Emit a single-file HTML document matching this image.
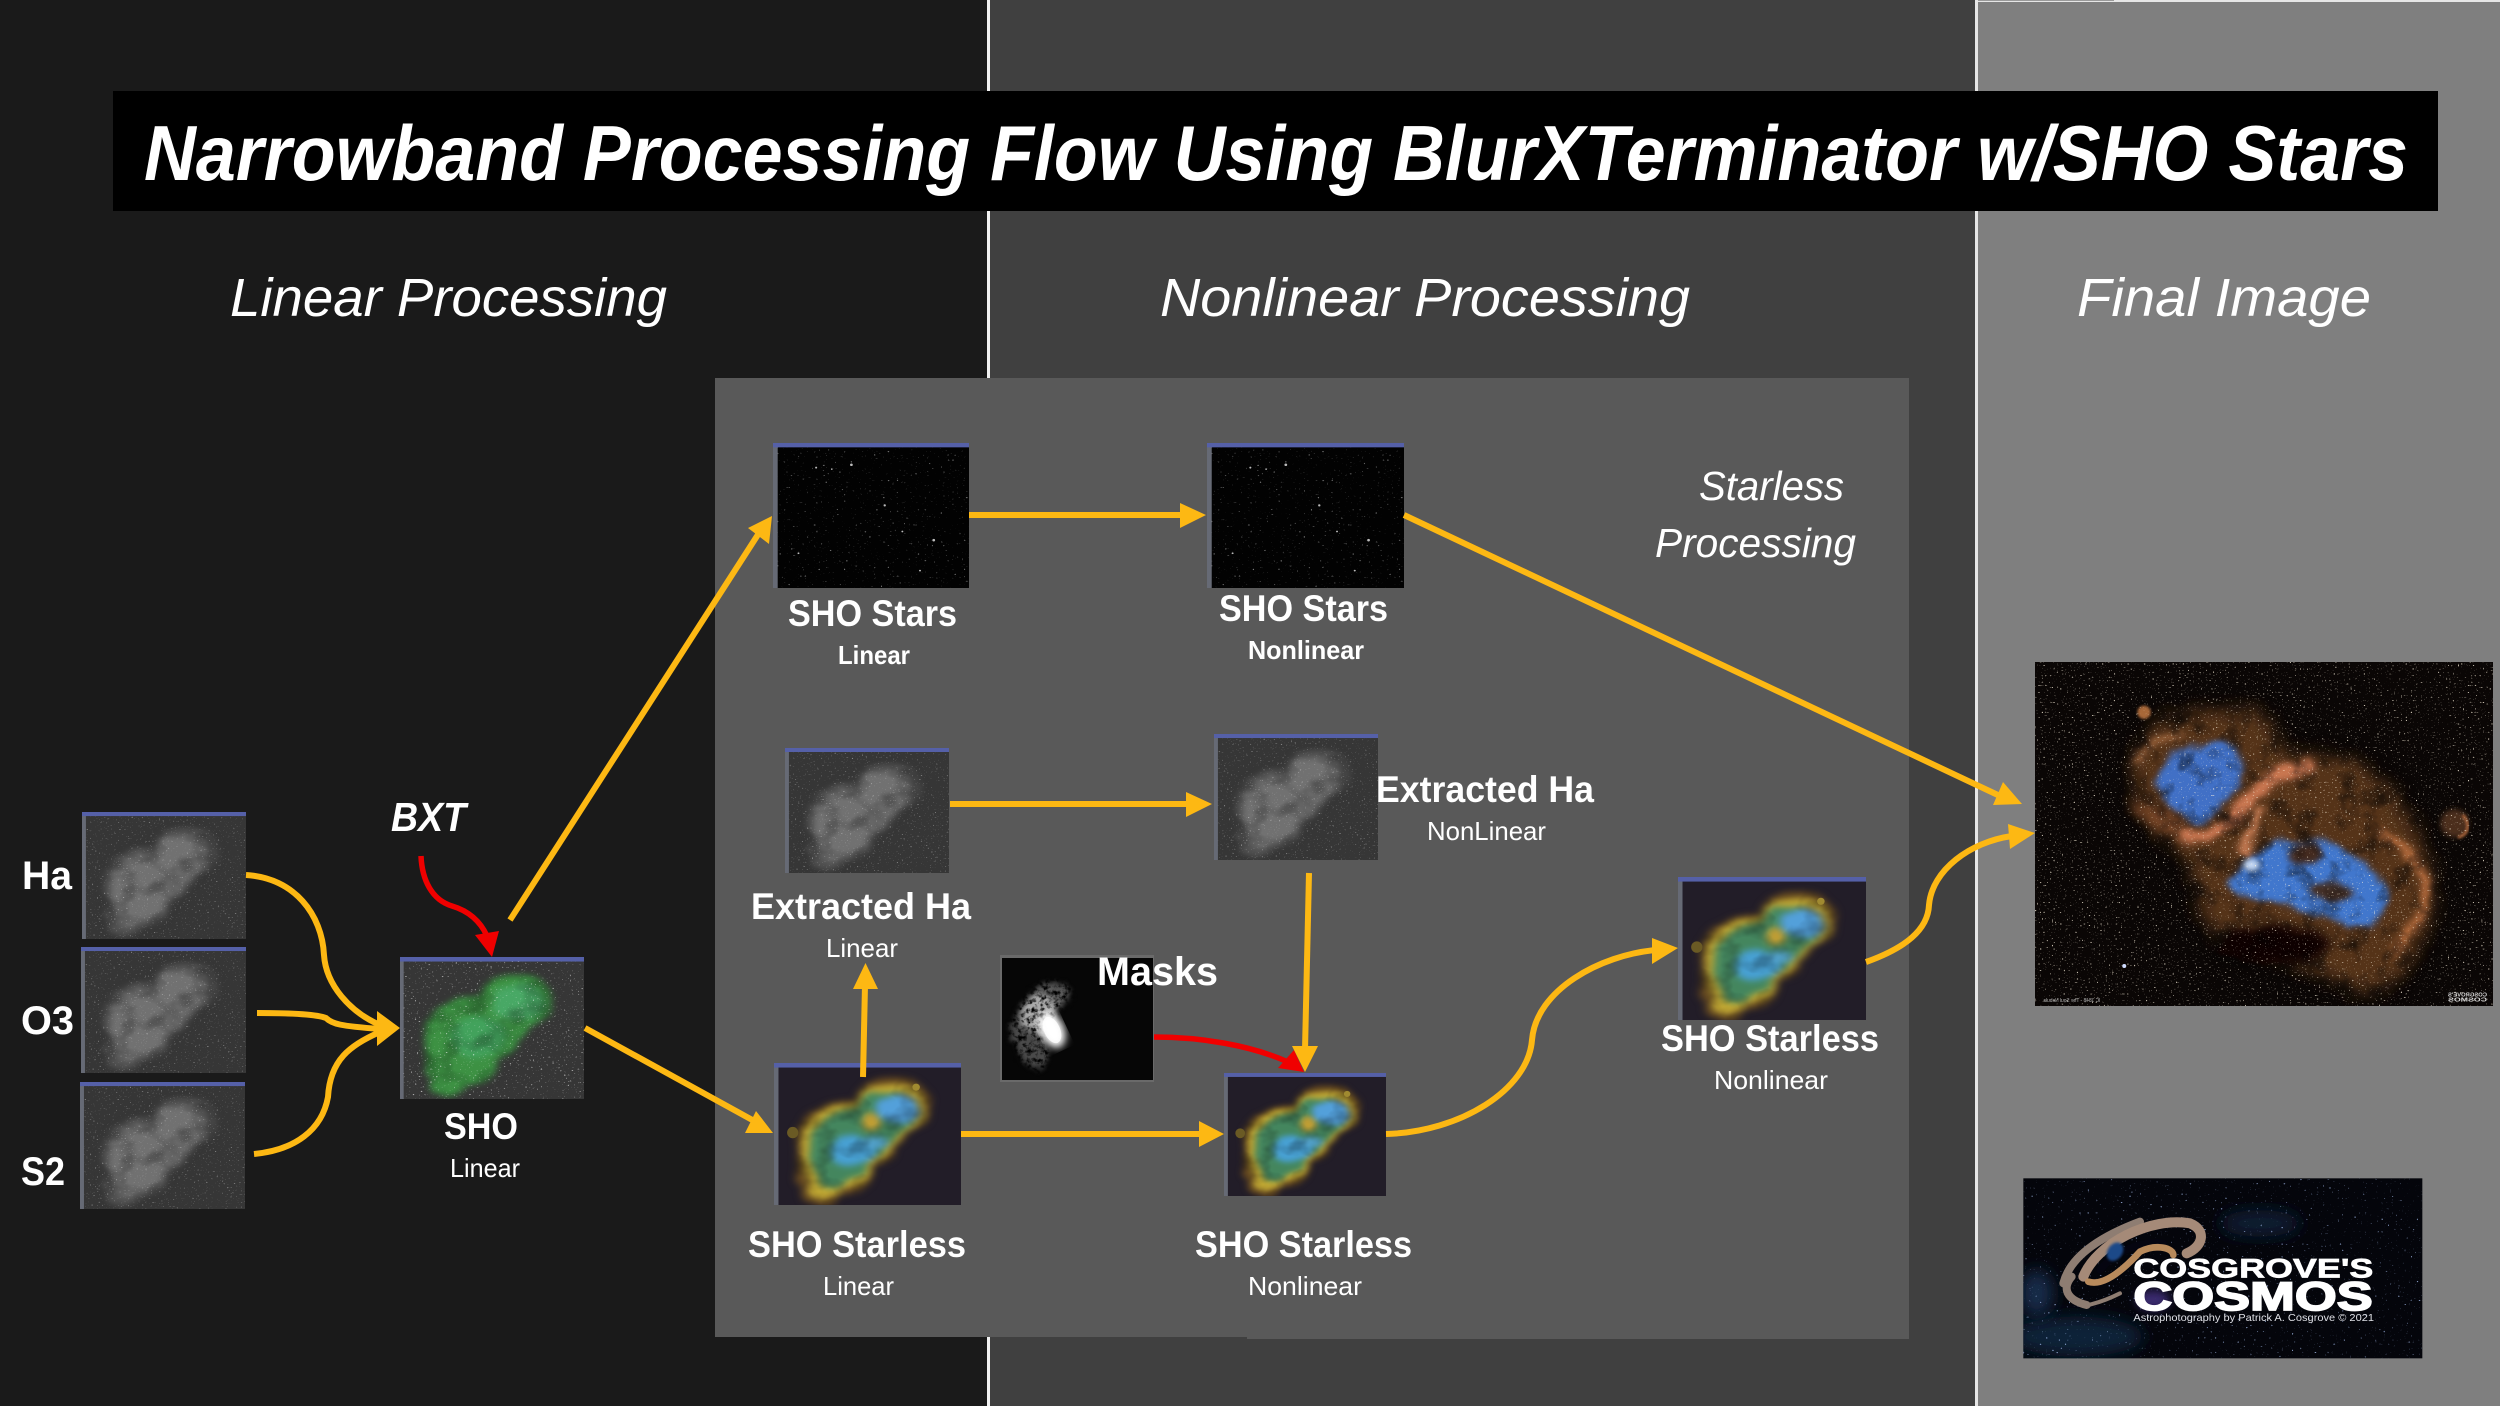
<!DOCTYPE html>
<html><head><meta charset="utf-8">
<style>
html,body{margin:0;padding:0;background:#1a1a1a}
svg{display:block}
text{font-family:"Liberation Sans",sans-serif;fill:#fff}
.b{font-weight:bold}
</style></head><body>
<svg xmlns="http://www.w3.org/2000/svg" width="2500" height="1406" viewBox="0 0 2500 1406">
<defs>
<filter id="nebT" x="-10%" y="-10%" width="120%" height="120%" color-interpolation-filters="sRGB">
  <feTurbulence type="fractalNoise" baseFrequency="0.06" numOctaves="3" seed="4" result="n"/>
  <feDisplacementMap in="SourceGraphic" in2="n" scale="7" xChannelSelector="R" yChannelSelector="G" result="d0"/>
  <feGaussianBlur in="d0" stdDeviation="2.2" result="d"/>
  <feColorMatrix in="n" values="1.7 0 0 0 0 1.7 0 0 0 0 1.7 0 0 0 0 0 0 0 0 1" result="g"/>
  <feComposite in="d" in2="g" operator="arithmetic" k1="0.45" k2="0.6"/>
</filter>
<filter id="cloud" x="-5%" y="-5%" width="110%" height="110%" color-interpolation-filters="sRGB">
  <feTurbulence type="fractalNoise" baseFrequency="0.014" numOctaves="4" seed="5" result="n"/>
  <feDisplacementMap in="SourceGraphic" in2="n" scale="45" xChannelSelector="R" yChannelSelector="G" result="d0"/>
  <feGaussianBlur in="d0" stdDeviation="6" result="d"/>
  <feColorMatrix in="n" values="1.9 0 0 0 0 1.9 0 0 0 0 1.9 0 0 0 0 0 0 0 0 1" result="g"/>
  <feComposite in="d" in2="g" operator="arithmetic" k1="0.85" k2="0.25"/>
</filter>
<filter id="stars" x="0" y="0" width="100%" height="100%" color-interpolation-filters="sRGB">
  <feTurbulence type="fractalNoise" baseFrequency="0.95" numOctaves="1" seed="7"/>
  <feColorMatrix values="0 0 0 0 1 0 0 0 0 1 0 0 0 0 1 9 0 0 0 -5.9"/>
</filter>
<filter id="starsFew" x="0" y="0" width="100%" height="100%" color-interpolation-filters="sRGB">
  <feTurbulence type="fractalNoise" baseFrequency="0.85" numOctaves="1" seed="21"/>
  <feColorMatrix values="0 0 0 0 1 0 0 0 0 1 0 0 0 0 1 9 0 0 0 -6.2"/>
</filter>
<filter id="starsFinal" x="0" y="0" width="100%" height="100%" color-interpolation-filters="sRGB">
  <feTurbulence type="fractalNoise" baseFrequency="0.2" numOctaves="1" seed="11"/>
  <feColorMatrix values="0 0 0 0 1 0 0 0 0 .96 0 0 0 0 .88 10 0 0 0 -6.7"/>
</filter>
<filter id="starsBig" x="0" y="0" width="100%" height="100%" color-interpolation-filters="sRGB">
  <feTurbulence type="fractalNoise" baseFrequency="0.16" numOctaves="1" seed="3"/>
  <feColorMatrix values="0 0 0 0 .7 0 0 0 0 .8 0 0 0 0 1 10 0 0 0 -7"/>
</filter>
<filter id="b4"><feGaussianBlur stdDeviation="4"/></filter>
<filter id="b8" x="-20%" y="-20%" width="140%" height="140%"><feGaussianBlur stdDeviation="8"/></filter>
<filter id="b14" x="-30%" y="-30%" width="160%" height="160%"><feGaussianBlur stdDeviation="14"/></filter>
<filter id="b24" x="-30%" y="-30%" width="160%" height="160%"><feGaussianBlur stdDeviation="24"/></filter>
<filter id="blob" x="-40%" y="-40%" width="180%" height="180%" color-interpolation-filters="sRGB">
  <feTurbulence type="fractalNoise" baseFrequency="0.22" numOctaves="3" seed="12" result="n"/>
  <feDisplacementMap in="SourceGraphic" in2="n" scale="16" xChannelSelector="R" yChannelSelector="G" result="d0"/>
  <feGaussianBlur in="d0" stdDeviation="2.5" result="d"/>
  <feColorMatrix in="n" values="3 0 0 0 -.7 3 0 0 0 -.7 3 0 0 0 -.7 0 0 0 0 1" result="g"/>
  <feComposite in="d" in2="g" operator="arithmetic" k1="1"/>
</filter>

<g id="lob">
  <ellipse cx="62" cy="32" rx="20" ry="20"/>
  <ellipse cx="40" cy="52" rx="27" ry="24"/>
  <ellipse cx="33" cy="72" rx="21" ry="20"/>
  <ellipse cx="27" cy="88" rx="10" ry="11"/>
  <ellipse cx="52" cy="46" rx="20" ry="16"/>
</g>

<symbol id="grey" viewBox="0 0 100 100" preserveAspectRatio="none">
  <rect width="100" height="100" fill="#363636"/>
  <g filter="url(#nebT)">
    <use href="#lob" fill="#4f4f4f"/>
    <use href="#lob" fill="#6c6c6c" transform="translate(47 52) scale(.84) translate(-47 -52)"/>
  </g>
  <rect width="100" height="100" filter="url(#stars)" opacity=".4"/>
  <rect x="0" y="0" width="2.4" height="100" fill="#666a75"/>
  <rect x="0" y="0" width="100" height="3.2" fill="#5560a8"/>
</symbol>
<symbol id="green" viewBox="0 0 100 100" preserveAspectRatio="none">
  <rect width="100" height="100" fill="#363636"/>
  <g filter="url(#nebT)">
    <use href="#lob" fill="#3a8a40"/>
    <ellipse cx="64" cy="32" rx="13" ry="13" fill="#45a060"/>
    <ellipse cx="42" cy="56" rx="15" ry="15" fill="#3f9a58"/>
  </g>
  <rect width="100" height="100" filter="url(#stars)" opacity=".6"/>
  <rect x="0" y="0" width="2" height="100" fill="#666a75"/>
  <rect x="0" y="0" width="100" height="3.2" fill="#5560a8"/>
</symbol>
<symbol id="sho" viewBox="0 0 100 100" preserveAspectRatio="none">
  <rect width="100" height="100" fill="#221d28"/>
  <g filter="url(#nebT)">
    <use href="#lob" fill="#5f4420" transform="translate(47 52) scale(1.06) translate(-47 -52)"/>
    <use href="#lob" fill="#b8a030" transform="translate(47 52) scale(.95) translate(-47 -52)"/>
    <use href="#lob" fill="#41805a" transform="translate(47 52) scale(.8) translate(-47 -52)"/>
    <ellipse cx="66" cy="33" rx="10" ry="10" fill="#4f98d0"/>
    <ellipse cx="42" cy="62" rx="13" ry="10" fill="#4498c8"/>
    <ellipse cx="54" cy="56" rx="7" ry="5" fill="#58acd8"/>
    <ellipse cx="52" cy="41" rx="5" ry="7" fill="#b89630"/>
  </g>
  <ellipse cx="10" cy="49" rx="3" ry="4" fill="#6a5a24"/>
  <ellipse cx="76" cy="17" rx="2" ry="2.5" fill="#a08a30"/>
  <rect x="0" y="0" width="2.4" height="100" fill="#666a75"/>
  <rect x="0" y="0" width="100" height="3.2" fill="#5560a8"/>
</symbol>
<symbol id="blk" viewBox="0 0 100 100" preserveAspectRatio="none">
  <rect width="100" height="100" fill="#020202"/>
  <rect width="100" height="100" filter="url(#starsFew)" opacity=".5"/>
  <g fill="#bbb">
    <ellipse cx="40" cy="15" rx=".7" ry=".9"/><ellipse cx="22" cy="17" rx=".5" ry=".7"/><ellipse cx="57" cy="43" rx=".6" ry=".8"/>
    <ellipse cx="82" cy="67" rx=".7" ry=".9"/><ellipse cx="66" cy="61" rx=".5" ry=".6"/><ellipse cx="75" cy="88" rx=".5" ry=".6"/>
    <ellipse cx="13" cy="76" rx=".5" ry=".6"/><ellipse cx="30" cy="18" rx=".4" ry=".6"/>
  </g>
  <rect x="0" y="0" width="2.4" height="100" fill="#666a75"/>
  <rect x="0" y="0" width="100" height="3" fill="#5560a8"/>
</symbol>
</defs>

<!-- backgrounds -->
<rect x="0" y="0" width="988" height="1406" fill="#1a1a1a"/>
<rect x="988" y="0" width="988" height="1406" fill="#404040"/>
<rect x="1976" y="0" width="524" height="1406" fill="#7f7f7f"/>
<rect x="987" y="0" width="3" height="1406" fill="#f2f2f2"/>
<rect x="1975" y="0" width="3" height="1406" fill="#e6e6e6"/>
<rect x="1976" y="0" width="524" height="2" fill="#e6e6e6"/>
<rect x="1978" y="0" width="136" height="1" fill="#9a9a9a"/>

<!-- title -->
<rect x="113" y="91" width="2325" height="120" fill="#000"/>
<text class="b" x="144" y="180" font-size="78" font-style="italic" textLength="2264" lengthAdjust="spacingAndGlyphs">Narrowband Processing Flow Using BlurXTerminator w/SHO Stars</text>

<!-- section headings -->
<text x="230" y="316" font-size="54" font-style="italic" textLength="437" lengthAdjust="spacingAndGlyphs">Linear Processing</text>
<text x="1160" y="316" font-size="54" font-style="italic" textLength="530" lengthAdjust="spacingAndGlyphs">Nonlinear Processing</text>
<text x="2077" y="316" font-size="54" font-style="italic" textLength="294" lengthAdjust="spacingAndGlyphs">Final Image</text>

<!-- starless panel -->
<path d="M715 378H1909V1339H1247V1337H715Z" fill="#595959"/>
<text x="1699" y="500" font-size="41" font-style="italic" textLength="145" lengthAdjust="spacingAndGlyphs">Starless</text>
<text x="1655" y="557" font-size="41" font-style="italic" textLength="201" lengthAdjust="spacingAndGlyphs">Processing</text>

<!-- windows -->
<use href="#grey" x="82" y="812" width="164" height="127"/>
<use href="#grey" x="81" y="947" width="165" height="126"/>
<use href="#grey" x="80" y="1082" width="165" height="127"/>
<use href="#green" x="400" y="957" width="184" height="142"/>
<use href="#blk" x="773" y="443" width="196" height="145"/>
<use href="#blk" x="1207" y="443" width="197" height="145"/>
<use href="#grey" x="785" y="748" width="164" height="125"/>
<use href="#grey" x="1214" y="734" width="164" height="126"/>
<use href="#sho" x="774" y="1063" width="187" height="142"/>
<use href="#sho" x="1224" y="1073" width="162" height="123"/>
<use href="#sho" x="1678" y="877" width="188" height="143"/>

<!-- mask -->
<g>
  <rect x="1000" y="955" width="154" height="127" fill="#6a6a6a"/>
  <rect x="1002" y="958" width="151" height="122" fill="#060606"/>
  <g filter="url(#blob)">
    <ellipse cx="1030" cy="1040" rx="16" ry="30" fill="#4a4a4a" transform="rotate(-20 1030 1040)"/>
    <ellipse cx="1052" cy="995" rx="18" ry="13" fill="#5a5a5a"/>
    <ellipse cx="1039" cy="1014" rx="18" ry="20" fill="#aaa"/>
  </g>
  <ellipse cx="1052" cy="1030" rx="12" ry="19" fill="#fff" filter="url(#b4)" transform="rotate(-25 1052 1030)"/>
  <ellipse cx="1052" cy="1030" rx="8" ry="14" fill="#fff" transform="rotate(-25 1052 1030)" opacity=".8"/>
</g>

<!-- yellow connectors -->
<g fill="none" stroke="#fdb813" stroke-width="6">
  <path d="M246 875C295 878 322 915 324 955C326 985 350 1012 380 1025"/>
  <path d="M257 1013C290 1013 316 1014 326 1018C332 1024 340 1026 380 1029"/>
  <path d="M254 1154C295 1150 322 1130 328 1097C330 1060 350 1045 380 1032"/>
  <path d="M510 920L759 533"/>
  <path d="M585 1028L756 1122"/>
  <path d="M961 1134H1202"/>
  <path d="M863 1077L865 985"/>
  <path d="M969 515H1184"/>
  <path d="M950 804H1190"/>
  <path d="M1309 873L1305 1050"/>
  <path d="M1404 515L2000 796"/>
  <path d="M1386 1134C1460 1132 1528 1090 1532 1040C1536 990 1600 955 1656 950"/>
  <path d="M1866 962C1905 948 1928 930 1929 905C1932 870 1970 842 2012 836"/>
</g>
<g fill="#fdb813">
  <polygon points="400,1028 377,1011 377,1046"/>
  <polygon points="772,516 748,528 769,544"/>
  <polygon points="773,1133 756,1111 745,1133"/>
  <polygon points="1224,1134 1199,1121 1199,1147"/>
  <polygon points="865.5,963 853,989 878,989"/>
  <polygon points="1206,515 1180,503 1180,528"/>
  <polygon points="1212,804 1186,792 1186,817"/>
  <polygon points="2022,804 1993,805 2003,782"/>
  <polygon points="2035,833 2008,824 2010,849"/>
  <polygon points="1678,948 1652,938 1652,964"/>
</g>
<!-- red connectors -->
<g fill="none" stroke="#f00000" stroke-width="5.5">
  <path d="M421 856C422 880 432 900 452 906C472 912 482 925 487 936"/>
  <path d="M1154 1037C1200 1037 1250 1045 1288 1062"/>
</g>
<polygon points="492,957 475,935 499,931" fill="#f00000"/>
<polygon points="1304,1072 1278,1068 1294,1050" fill="#f00000"/>
<polygon points="1305,1072 1292,1046 1318,1046" fill="#fdb813"/>

<!-- labels -->
<text class="b" x="22" y="889" font-size="40" textLength="50" lengthAdjust="spacingAndGlyphs">Ha</text>
<text class="b" x="21" y="1034" font-size="40" textLength="53" lengthAdjust="spacingAndGlyphs">O3</text>
<text class="b" x="21" y="1185" font-size="40" textLength="44" lengthAdjust="spacingAndGlyphs">S2</text>
<text class="b" x="391" y="831" font-size="41" font-style="italic" textLength="75" lengthAdjust="spacingAndGlyphs">BXT</text>
<text class="b" x="444" y="1139" font-size="37" textLength="74" lengthAdjust="spacingAndGlyphs">SHO</text>
<text x="450" y="1177" font-size="26" textLength="70" lengthAdjust="spacingAndGlyphs">Linear</text>
<text class="b" x="788" y="626" font-size="37" textLength="169" lengthAdjust="spacingAndGlyphs">SHO Stars</text>
<text class="b" x="838" y="664" font-size="26" textLength="72" lengthAdjust="spacingAndGlyphs">Linear</text>
<text class="b" x="1219" y="621" font-size="37" textLength="169" lengthAdjust="spacingAndGlyphs">SHO Stars</text>
<text class="b" x="1248" y="659" font-size="26" textLength="116" lengthAdjust="spacingAndGlyphs">Nonlinear</text>
<text class="b" x="751" y="919" font-size="37" textLength="220" lengthAdjust="spacingAndGlyphs">Extracted Ha</text>
<text x="826" y="957" font-size="26" textLength="72" lengthAdjust="spacingAndGlyphs">Linear</text>
<text class="b" x="1376" y="802" font-size="37" textLength="218" lengthAdjust="spacingAndGlyphs">Extracted Ha</text>
<text x="1427" y="840" font-size="26" textLength="119" lengthAdjust="spacingAndGlyphs">NonLinear</text>
<text class="b" x="1097" y="985" font-size="40" textLength="121" lengthAdjust="spacingAndGlyphs">Masks</text>
<text class="b" x="748" y="1257" font-size="37" textLength="218" lengthAdjust="spacingAndGlyphs">SHO Starless</text>
<text x="823" y="1295" font-size="26" textLength="71" lengthAdjust="spacingAndGlyphs">Linear</text>
<text class="b" x="1195" y="1257" font-size="37" textLength="217" lengthAdjust="spacingAndGlyphs">SHO Starless</text>
<text x="1248" y="1295" font-size="26" textLength="114" lengthAdjust="spacingAndGlyphs">Nonlinear</text>
<text class="b" x="1661" y="1051" font-size="37" textLength="218" lengthAdjust="spacingAndGlyphs">SHO Starless</text>
<text x="1714" y="1089" font-size="26" textLength="114" lengthAdjust="spacingAndGlyphs">Nonlinear</text>

<!-- final image -->
<svg x="2035" y="662" width="458" height="344" viewBox="165 66 1365 1032" preserveAspectRatio="none">
  <rect x="165" y="66" width="1365" height="1032" fill="#0a0605"/>
  <g filter="url(#cloud)">
    <path d="M470 330C500 220 700 170 850 230C900 280 880 340 960 350C1060 320 1200 380 1260 500C1340 600 1370 750 1340 850C1300 980 1230 1050 1150 1060C1000 1000 850 950 700 880C640 780 640 700 620 640C540 610 440 520 470 330Z" fill="#4e2e18" filter="url(#b24)"/>
    <path d="M440 480C500 540 560 600 640 620L600 520Z" fill="#6a3e20" filter="url(#b14)"/>
    <path d="M530 430C540 340 620 300 750 310C790 350 790 400 770 440C720 500 680 540 640 550C590 510 530 500 530 430Z" fill="#3a66b4" filter="url(#b8)"/>
    <path d="M740 720C800 640 850 590 950 600C1040 580 1150 650 1210 740C1230 800 1210 860 1120 860C1010 830 940 790 850 780C800 770 750 760 740 720Z" fill="#3a6cba" filter="url(#b8)"/>
    <ellipse cx="970" cy="640" rx="50" ry="40" fill="#3d271d" filter="url(#b8)"/>
    <ellipse cx="1050" cy="755" rx="70" ry="30" fill="#3d2920" filter="url(#b8)"/>
    <g fill="none" stroke-linecap="round" filter="url(#b8)">
      <path d="M620 590C680 610 730 560 830 450C880 410 930 390 980 375" stroke="#b86c48" stroke-width="40"/>
      <path d="M790 640C810 590 810 550 840 510" stroke="#bd7650" stroke-width="24"/>
      <path d="M1190 580C1250 600 1300 650 1335 720C1340 790 1300 860 1240 930" stroke="#a86438" stroke-width="24"/>
      <path d="M480 375C470 330 520 305 600 285" stroke="#a86c42" stroke-width="14"/>
    </g>
    <ellipse cx="880" cy="915" rx="170" ry="60" fill="#0a0605" filter="url(#b14)"/>
  </g>
  <ellipse cx="810" cy="675" rx="24" ry="18" fill="#c4d8f4" filter="url(#b8)"/>
  <circle cx="1415" cy="550" r="42" fill="#4c2f1a" filter="url(#b8)"/>
  <path d="M1440 525C1465 555 1455 585 1425 592" fill="none" stroke="#a8643a" stroke-width="9" filter="url(#b4)"/>
  <circle cx="490" cy="217" r="20" fill="#a86838" filter="url(#b4)"/>
  <rect x="165" y="66" width="1365" height="1032" filter="url(#starsFinal)" opacity=".8"/>
  <circle cx="431" cy="978" r="6" fill="#cfdcff"/>
  <text x="-360" y="1086" font-size="15" transform="scale(-1 1)" style="fill:#bbb" textLength="170" lengthAdjust="spacingAndGlyphs">IC 1848 - The Soul Nebula</text>
  <g transform="scale(-1 1)"><text x="-1512" y="1070" font-size="16" class="b" style="fill:#ddd" textLength="116" lengthAdjust="spacingAndGlyphs">COSGROVE'S</text><text x="-1512" y="1085" font-size="16" class="b" style="fill:#ddd" textLength="116" lengthAdjust="spacingAndGlyphs">COSMOS</text></g>
</svg>

<!-- logo -->
<g transform="translate(2000 1160) scale(.33333)">
  <rect x="70" y="55" width="1197" height="540" fill="#04050b"/>
  <svg x="70" y="55" width="1197" height="540" viewBox="70 55 1197 540">
    <ellipse cx="230" cy="530" rx="200" ry="60" fill="#0f2238" filter="url(#b24)"/>
    <ellipse cx="110" cy="400" rx="50" ry="70" fill="#13294a" filter="url(#b24)"/>
    <ellipse cx="780" cy="190" rx="120" ry="40" fill="#0a1a30" filter="url(#b24)"/>
    <rect x="70" y="55" width="1197" height="540" filter="url(#starsBig)" opacity=".75"/>
    <g fill="none" stroke-linecap="round">
      <path d="M190 370C210 290 300 230 420 185" stroke="#8e7d72" stroke-width="24"/>
      <path d="M260 435C200 420 185 385 215 350" stroke="#8e7d72" stroke-width="24"/>
      <path d="M360 400C300 430 280 430 262 436" stroke="#8e7d72" stroke-width="12"/>
      <path d="M250 350C290 250 450 170 570 190C620 210 610 260 560 280" stroke="#a58a78" stroke-width="30"/>
      <path d="M300 330C340 280 420 240 490 250" stroke="#050510" stroke-width="22"/>
      <path d="M265 365C310 380 370 330 420 275C470 250 520 265 520 285" stroke="#b88a5c" stroke-width="20"/>
    </g>
    <ellipse cx="345" cy="275" rx="22" ry="30" fill="#1e4a88" filter="url(#b4)" transform="rotate(35 345 275)"/>
    <ellipse cx="460" cy="420" rx="50" ry="30" fill="#3a2a70" filter="url(#b14)"/>
  </svg>
  <text class="b" x="400" y="352" font-size="80" textLength="720" lengthAdjust="spacingAndGlyphs" style="stroke:#fff;stroke-width:2">COSGROVE'S</text>
  <text class="b" x="400" y="450" font-size="120" textLength="718" lengthAdjust="spacingAndGlyphs" style="stroke:#fff;stroke-width:5">COSMOS</text>
  <text x="400" y="483" font-size="31" textLength="722" lengthAdjust="spacingAndGlyphs" style="fill:#dfe0e6">Astrophotography by Patrick A. Cosgrove © 2021</text>
</g>
</svg>
</body></html>
